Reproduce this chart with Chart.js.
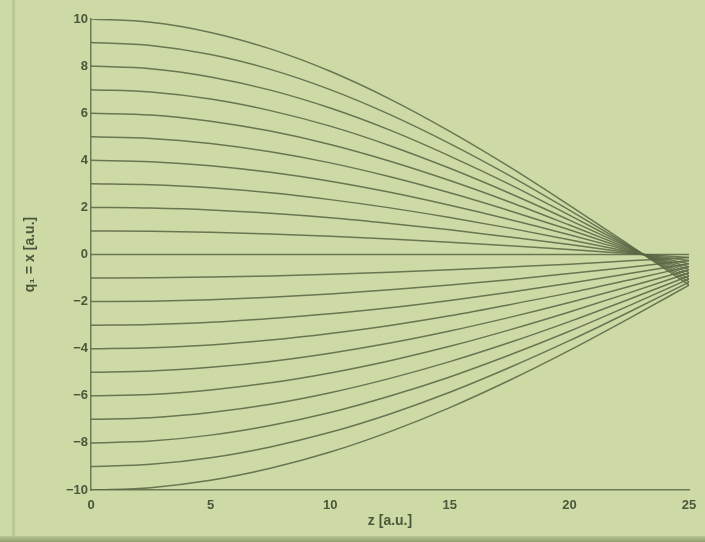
<!DOCTYPE html>
<html>
<head>
<meta charset="utf-8">
<script src="https://cdn.jsdelivr.net/npm/chart.js@4.4.1/dist/chart.umd.min.js"></script>
<style>
  html, body { margin: 0; padding: 0; background: #cddaa6; }
  #wrap { position: relative; width: 705px; height: 542px; overflow: hidden; background: #cddaa6; }
  #c { position: absolute; left: 0; top: 0; filter: blur(0.45px); }
  #edgeL { position: absolute; left: 12px; top: 0; width: 3px; height: 542px; background: rgba(150,165,115,0.35); }
  #edgeB { position: absolute; left: 0; top: 536px; width: 705px; height: 6px; background: linear-gradient(#b9c795, #8f9c6c); }
</style>
</head>
<body>
<div id="wrap">
  <canvas id="c" width="705" height="542"></canvas>
  <div id="edgeL"></div>
  <div id="edgeB"></div>
</div>
<script>
// z positions (a.u.)
const zValues = [0, 2.5, 5, 7.5, 10, 12.5, 15, 17.5, 20, 22.5, 25];

// q1 = x trajectories (start value in the name)
const qPos10 = [10, 9.86, 9.43, 8.73, 7.78, 6.60, 5.23, 3.72, 2.09, 0.41, -1.29];
const qPos9  = [9, 8.87, 8.49, 7.86, 7.00, 5.94, 4.71, 3.35, 1.88, 0.37, -1.16];
const qPos8  = [8, 7.89, 7.54, 6.98, 6.22, 5.28, 4.18, 2.98, 1.67, 0.33, -1.03];
const qPos7  = [7, 6.90, 6.60, 6.11, 5.45, 4.62, 3.66, 2.60, 1.46, 0.29, -0.90];
const qPos6  = [6, 5.92, 5.66, 5.24, 4.67, 3.96, 3.14, 2.23, 1.25, 0.25, -0.77];
const qPos5  = [5, 4.93, 4.71, 4.36, 3.89, 3.30, 2.62, 1.86, 1.05, 0.20, -0.64];
const qPos4  = [4, 3.94, 3.77, 3.49, 3.11, 2.64, 2.09, 1.49, 0.84, 0.16, -0.52];
const qPos3  = [3, 2.96, 2.83, 2.62, 2.33, 1.98, 1.57, 1.12, 0.63, 0.12, -0.39];
const qPos2  = [2, 1.97, 1.89, 1.75, 1.56, 1.32, 1.05, 0.74, 0.42, 0.08, -0.26];
const qPos1  = [1, 0.99, 0.94, 0.87, 0.78, 0.66, 0.52, 0.37, 0.21, 0.04, -0.13];
const qZero  = [0, 0, 0, 0, 0, 0, 0, 0, 0, 0, 0];
const qNeg1  = [-1, -0.99, -0.96, -0.91, -0.84, -0.75, -0.65, -0.53, -0.41, -0.27, -0.13];
const qNeg2  = [-2, -1.98, -1.92, -1.82, -1.68, -1.50, -1.30, -1.07, -0.81, -0.54, -0.26];
const qNeg3  = [-3, -2.97, -2.88, -2.72, -2.52, -2.26, -1.95, -1.60, -1.22, -0.81, -0.39];
const qNeg4  = [-4, -3.96, -3.84, -3.63, -3.35, -3.01, -2.60, -2.13, -1.63, -1.08, -0.52];
const qNeg5  = [-5, -4.95, -4.79, -4.54, -4.19, -3.76, -3.25, -2.67, -2.04, -1.36, -0.65];
const qNeg6  = [-6, -5.94, -5.75, -5.45, -5.03, -4.51, -3.90, -3.20, -2.44, -1.63, -0.78];
const qNeg7  = [-7, -6.93, -6.71, -6.36, -5.87, -5.26, -4.55, -3.74, -2.85, -1.90, -0.91];
const qNeg8  = [-8, -7.92, -7.67, -7.26, -6.71, -6.01, -5.20, -4.27, -3.26, -2.17, -1.04];
const qNeg9  = [-9, -8.91, -8.63, -8.17, -7.55, -6.77, -5.85, -4.80, -3.66, -2.44, -1.17];
const qNeg10 = [-10, -9.90, -9.59, -9.08, -8.39, -7.52, -6.50, -5.34, -4.07, -2.71, -1.30];

const allSeries = [qPos10, qPos9, qPos8, qPos7, qPos6, qPos5, qPos4, qPos3, qPos2, qPos1, qZero,
                   qNeg1, qNeg2, qNeg3, qNeg4, qNeg5, qNeg6, qNeg7, qNeg8, qNeg9, qNeg10];

const xTicks = [0, 5, 10, 15, 20, 25];
const yTicks = [-10, -8, -6, -4, -2, 0, 2, 4, 6, 8, 10];

const lineColor = 'rgba(92,102,70,0.88)';
const axisColor = '#6f7b57';
const textColor = '#4c5639';
const fontFam = 'Liberation Sans, Arial, sans-serif';

const datasets = allSeries.map(arr => ({
  data: arr.map((v, i) => ({ x: zValues[i], y: v })),
  borderColor: lineColor,
  borderWidth: 1.5,
  pointRadius: 0,
  fill: false,
  cubicInterpolationMode: 'monotone'
}));

new Chart(document.getElementById('c'), {
  type: 'line',
  data: { datasets },
  options: {
    responsive: false,
    animation: false,
    events: [],
    layout: { padding: { left: 0, right: 16, top: 19, bottom: 0 } },
    plugins: { legend: { display: false }, tooltip: { enabled: false } },
    scales: {
      x: {
        type: 'linear',
        min: 0, max: 25,
        afterBuildTicks: s => { s.ticks = xTicks.map(v => ({ value: v })); },
        afterFit: s => { s.height = 52; },
        grid: { display: false, drawTicks: false },
        border: { display: true, color: axisColor, width: 1.5 },
        ticks: {
          color: textColor,
          padding: 8,
          font: { family: fontFam, size: 13, weight: 'bold' },
          maxRotation: 0
        },
        title: {
          display: true,
          text: 'z [a.u.]',
          color: textColor,
          padding: { top: 0, bottom: 12 },
          font: { family: fontFam, size: 14, weight: 'bold' }
        }
      },
      y: {
        type: 'linear',
        min: -10, max: 10,
        afterBuildTicks: s => { s.ticks = yTicks.map(v => ({ value: v })); },
        afterFit: s => { s.width = 91; },
        grid: { display: false, drawTicks: false },
        border: { display: true, color: axisColor, width: 1.5 },
        ticks: {
          color: textColor,
          padding: 3,
          font: { family: fontFam, size: 13, weight: 'bold' },
          callback: v => (v < 0 ? '\u2212' + Math.abs(v) : String(v))
        },
        title: {
          display: true,
          text: 'q\u2081 = x [a.u.]',
          color: textColor,
          padding: { top: 22, bottom: 0 },
          font: { family: fontFam, size: 14, weight: 'bold' }
        }
      }
    }
  }
});
</script>
</body>
</html>
